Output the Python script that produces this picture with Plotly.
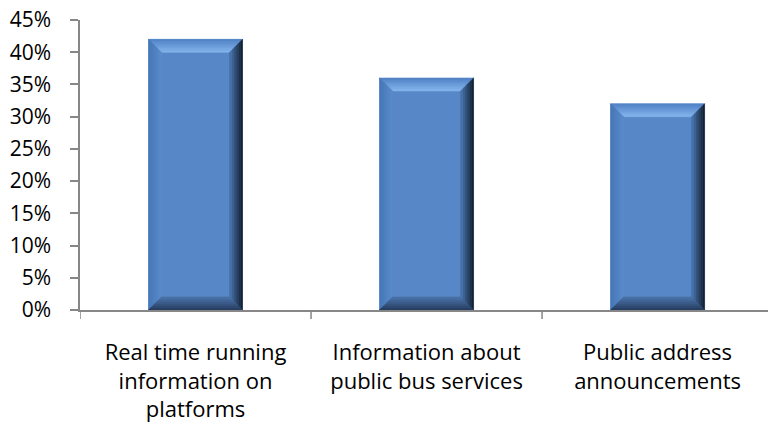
import plotly.graph_objects as go

# data
categories = [
    "Real time running<br>information on<br>platforms",
    "Information about<br>public bus services",
    "Public address<br>announcements",
]
shares = [0.42, 0.36, 0.32]
y_ticks = [0, 0.05, 0.10, 0.15, 0.20, 0.25, 0.30, 0.35, 0.40, 0.45]

W, H = 768, 428
M_L, M_T, M_B = 80, 20, 118
X_RANGE = [-0.5, 2.478]
Y_RANGE = [0, 0.45]
BAR_W = 0.407

FACE = "#5787C7"
AXIS_GREY = "#878787"

# pixel -> data unit helpers (for the bevel decoration)
sx = (X_RANGE[1] - X_RANGE[0]) / (W - M_L)
sy = (Y_RANGE[1] - Y_RANGE[0]) / (H - M_T - M_B)


def hex_to_rgb(h):
    h = h.lstrip("#")
    return tuple(int(h[i:i + 2], 16) for i in (0, 2, 4))


def mix(c0, c1, t):
    a, b = hex_to_rgb(c0), hex_to_rgb(c1)
    return "rgb(%d,%d,%d)" % tuple(round(a[i] + (b[i] - a[i]) * t) for i in range(3))


def bevel_shapes(xc, val, depth=13, bands=6):
    """Trapezoid bands round a bar to fake the Excel bevel."""
    x0, x1 = xc - BAR_W / 2, xc + BAR_W / 2
    y0, y1 = 0, val
    sides = {
        # side: (edge colour, inner colour)
        "top": ("#4E80C3", "#85B5EE"),
        "left": ("#4576B6", "#5B8BCB"),
        "right": ("#101A28", "#4B79B3"),
        "bottom": ("#25395A", "#4A74AA"),
    }
    out = []
    for k in range(bands):
        d0 = depth * k / bands
        d1 = depth * (k + 1) / bands
        t = (k + 0.5) / bands
        for side, (c_edge, c_in) in sides.items():
            if side == "top":
                pts = [(x0 + d0 * sx, y1 - d0 * sy), (x1 - d0 * sx, y1 - d0 * sy),
                       (x1 - d1 * sx, y1 - d1 * sy), (x0 + d1 * sx, y1 - d1 * sy)]
            elif side == "bottom":
                pts = [(x0 + d0 * sx, y0 + d0 * sy), (x1 - d0 * sx, y0 + d0 * sy),
                       (x1 - d1 * sx, y0 + d1 * sy), (x0 + d1 * sx, y0 + d1 * sy)]
            elif side == "left":
                pts = [(x0 + d0 * sx, y0 + d0 * sy), (x0 + d0 * sx, y1 - d0 * sy),
                       (x0 + d1 * sx, y1 - d1 * sy), (x0 + d1 * sx, y0 + d1 * sy)]
            else:
                pts = [(x1 - d0 * sx, y0 + d0 * sy), (x1 - d0 * sx, y1 - d0 * sy),
                       (x1 - d1 * sx, y1 - d1 * sy), (x1 - d1 * sx, y0 + d1 * sy)]
            path = "M " + " L ".join("%f,%f" % p for p in pts) + " Z"
            col = mix(c_edge, c_in, t)
            out.append(dict(type="path", path=path, xref="x", yref="y",
                            fillcolor=col, line=dict(width=0.6, color=col),
                            layer="above"))
    return out


fig = go.Figure()

fig.add_trace(
    go.Bar(
        x=list(range(len(categories))),
        y=shares,
        width=BAR_W,
        marker=dict(color=FACE, line=dict(width=0)),
        hoverinfo="skip",
    )
)

shapes = []
for i, v in enumerate(shares):
    shapes += bevel_shapes(i, v)

fig.update_layout(
    width=W,
    height=H,
    margin=dict(l=M_L, r=0, t=M_T, b=M_B),
    paper_bgcolor="white",
    plot_bgcolor="white",
    showlegend=False,
    shapes=shapes,
    font=dict(family="Open Sans, Calibri, sans-serif", color="#000000"),
    xaxis=dict(
        range=X_RANGE,
        automargin=False,
        tickmode="array",
        tickvals=list(range(len(categories))),
        ticktext=categories,
        ticks="",
        showline=True,
        linecolor=AXIS_GREY,
        linewidth=1.5,
        showgrid=False,
        zeroline=False,
        tickfont=dict(size=22),
        ticklabelstandoff=22,
    ),
    yaxis=dict(
        range=Y_RANGE,
        automargin=False,
        tickmode="array",
        tickvals=y_ticks,
        tickformat=".0%",
        ticks="outside",
        ticklen=8,
        tickcolor=AXIS_GREY,
        tickwidth=1.5,
        showline=True,
        linecolor=AXIS_GREY,
        linewidth=1.5,
        showgrid=False,
        zeroline=False,
        tickfont=dict(size=21),
        ticklabelstandoff=15,
        ticklabeloverflow="allow",
    ),
)

# category boundary ticks below the x axis
for b in [-0.5, 0.5, 1.5]:
    fig.add_shape(type="line", xref="x", yref="paper", x0=b, x1=b, y0=0,
                  y1=-9 / (H - M_T - M_B), line=dict(color=AXIS_GREY, width=1.5))

# drop the browser's default body margin so the figure fills the window
fig.write_html(
    "out.html",
    config={"displayModeBar": False},
    post_script="document.body.style.margin = '0';",
)
